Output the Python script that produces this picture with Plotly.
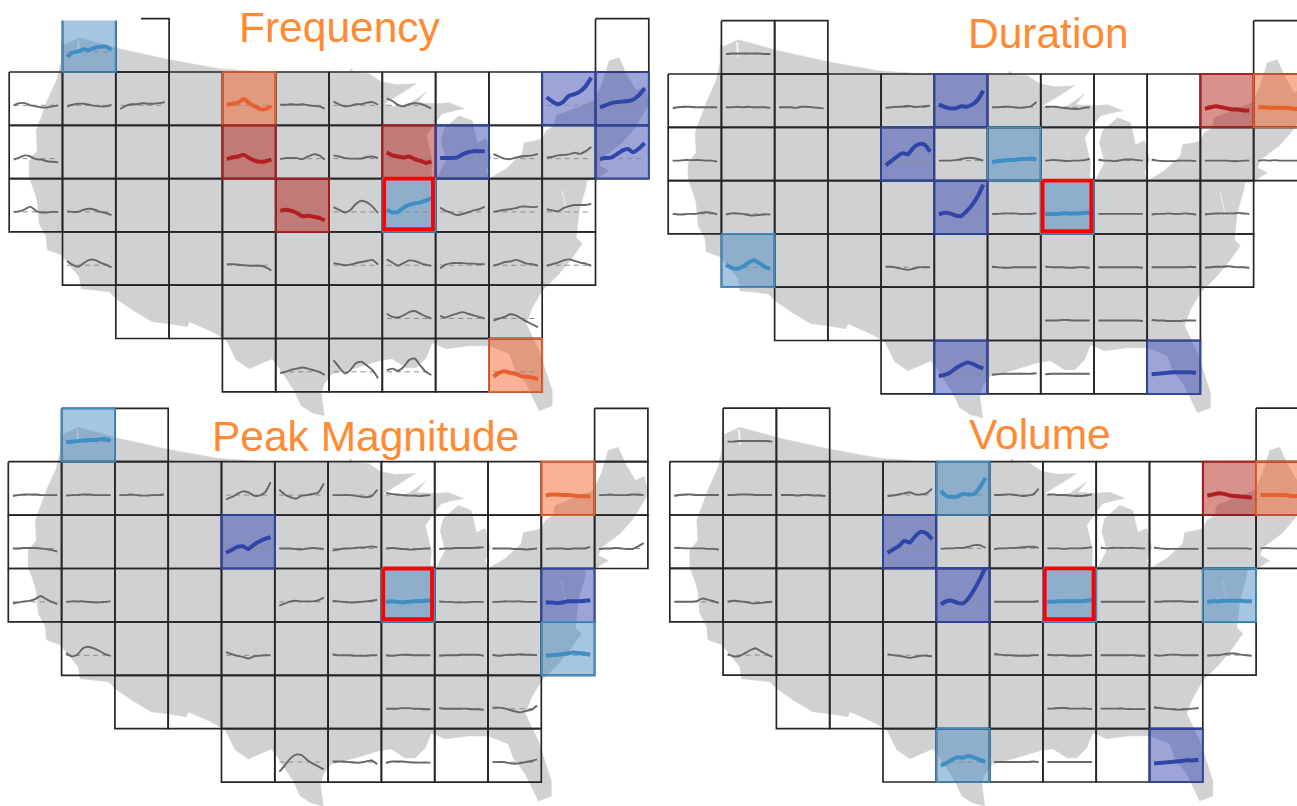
import plotly.graph_objects as go

# ---------- geometry of the tile map (col, row ranges per row) ----------
ROW_COLS = {0: [1, 2, 11], 1: list(range(12)), 2: list(range(12)), 3: list(range(11)),
            4: list(range(1, 11)), 5: list(range(2, 10)), 6: list(range(4, 10))}

# US silhouette in map units (1 cell = 53.3 units)
MAP_X = [52,55,70,110,160,210,267,320,340,342,345,360,372,387,407,393,375,383,400,412,417,408,427,440,455,445,433,425,417,423,422,427,
         437,432,435,450,463,468,477,482,477,480,497,513,515,527,533,537,545,547,585,593,600,610,617,627,636,640,625,612,593,590,600,587,
         577,577,570,567,573,563,550,543,533,523,517,530,543,543,530,517,505,500,480,460,437,423,417,407,397,383,370,347,323,315,312,315,
         303,292,285,270,263,240,227,217,203,180,178,160,143,123,107,100,72,70,60,52,38,37,30,28,25,20,20,28,27,32,38,48,52]
MAP_Y = [24,26,19,30,41,50,54,54,54,50,54,55,63,66,65,74,85,88,85,77,73,84,85,84,90,92,95,105,117,142,157,161,
         142,122,110,97,102,124,120,139,152,160,150,135,124,122,120,112,107,97,82,65,42,39,55,72,68,85,110,125,139,147,152,160,
         162,167,192,219,225,239,255,262,272,289,305,332,372,387,392,365,349,335,327,327,330,324,339,349,349,340,342,349,355,365,375,397,
         394,387,372,349,340,350,341,321,313,303,308,305,303,291,280,273,270,258,246,236,231,218,205,182,172,159,142,132,112,99,82,60,42]
PUGET_X = [68, 70, 71, 69]
PUGET_Y = [21, 22, 36, 36]
BAY_X = [553, 556, 558]
BAY_Y = [172, 185, 196]

# ---------- data: sparkline values, hundredths of a cell above the dashed baseline ----------
FREQ_CELLS = [(1,0),
    (0,1),(1,1),(2,1),(4,1),(5,1),(6,1),(7,1),(10,1),(11,1),
    (0,2),(4,2),(5,2),(6,2),(7,2),(8,2),(9,2),(10,2),(11,2),
    (0,3),(1,3),(5,3),(6,3),(7,3),(8,3),(9,3),(10,3),
    (1,4),(4,4),(6,4),(7,4),(8,4),(9,4),(10,4),
    (7,5),(8,5),(9,5),
    (5,6),(6,6),(7,6),(9,6)]
FREQ_SERIES = [[-9,-1,1,5,4,8,10,10,4],
    [0,4,4,0,-2,-4,-4,-2,0],[-2,1,3,3,1,-1,-2,-2,1],[-7,-1,2,2,4,3,3,4,6],[1,3,5,12,4,-2,-7,-7,-1],[1,1,2,1,2,0,-1,-2,-6],[7,2,-2,-1,2,2,5,6,1],[13,8,1,-2,2,4,3,-1,-6],[15,7,2,7,18,21,26,36,52],[-4,0,4,6,7,8,11,19,32],
    [-2,2,6,4,-1,-2,-5,-6,-7],[-1,2,4,7,1,-4,-6,-5,-2],[-1,1,1,1,-1,4,8,6,-2],[6,4,1,0,0,0,3,4,1],[12,6,4,2,4,-1,-4,-8,-5],[1,1,1,2,8,12,14,14,14],[9,4,0,-1,2,4,5,6,9],[2,3,6,7,8,11,9,14,22],[-1,1,2,8,15,18,12,19,29],
    [0,1,5,10,2,-1,-1,0,0],[1,0,0,4,6,4,0,-2,-6],[2,4,2,-2,-8,-7,-9,-11,-16],[9,4,-1,3,15,21,18,10,-2],[4,-1,0,8,13,16,18,21,26],[8,2,-2,-6,-4,-1,3,5,10],[0,2,4,5,7,10,10,9,10],[5,3,1,7,11,13,13,13,15],
    [8,1,-3,4,10,10,5,1,-4],[2,2,1,0,-1,-1,-1,-4,-10],[4,2,0,1,4,6,8,10,1],[11,5,-1,4,9,8,4,1,-1],[-6,1,4,4,4,3,3,2,2],[-1,2,6,7,10,7,3,2,-1],[-1,2,5,9,11,8,5,3,-1],
    [9,3,2,6,12,14,9,4,0],[5,2,6,9,12,9,6,3,0],[-4,0,3,8,6,0,-6,-11,-16],
    [-3,0,4,6,8,6,3,0,-6],[22,9,-3,3,16,19,12,3,-12],[3,6,2,9,22,25,12,0,-6],[-9,-2,1,-2,-4,-8,-9,-11,-14]]
FREQ_HIGHLIGHT = {(1,0):"blue",(4,1):"orange",(10,1):"navy",(11,1):"navy",(4,2):"red",(7,2):"red",(8,2):"navy",(11,2):"navy",(5,3):"red",(7,3):"blue",(9,6):"orange"}

DUR_CELLS = [(1,0),
    (0,1),(1,1),(2,1),(4,1),(5,1),(6,1),(7,1),(10,1),(11,1),
    (0,2),(4,2),(5,2),(6,2),(7,2),(8,2),(9,2),(10,2),(11,2),
    (0,3),(1,3),(5,3),(6,3),(7,3),(8,3),(9,3),(10,3),
    (1,4),(4,4),(6,4),(7,4),(8,4),(9,4),(10,4),
    (7,5),(8,5),(9,5),
    (5,6),(6,6),(7,6),(9,6)]
DUR_SERIES = [[0,1,1,1,1,1,1,0,0],
    [-2,0,1,1,0,0,0,0,0],[0,0,1,0,1,0,0,0,-1],[0,0,0,-1,1,1,0,-1,-2],[-1,0,1,1,3,1,1,2,3],[5,1,-2,-2,2,1,5,14,31],[0,0,1,1,0,-1,0,2,10],[1,1,1,-1,-2,-3,-3,-1,0],[-3,0,2,0,-2,-4,-4,-6,-6],[0,0,-1,-1,-1,-1,-2,-3,-4],
    [0,0,1,1,1,1,0,0,-2],[-9,-1,7,14,12,24,31,30,17],[0,0,0,1,3,5,5,3,0],[-3,-1,0,1,1,3,3,4,2],[0,1,1,0,-1,0,0,1,3],[2,0,0,-1,1,2,2,1,0],[2,0,-1,-1,-1,0,0,0,-1],[0,0,0,0,0,-1,-1,0,0],[0,1,0,1,0,0,0,0,0],
    [0,-1,-1,0,0,2,3,2,-1],[-1,1,1,0,-2,-3,-2,-1,-1],[-1,2,1,-3,-4,5,17,33,55],[0,0,1,1,1,0,0,0,1],[0,0,0,1,1,1,1,2,2],[0,0,0,0,0,0,0,0,0],[-1,0,0,1,0,0,1,0,-1],[-1,0,1,1,1,1,2,1,0],
    [5,-1,-3,1,8,13,8,1,-3],[1,1,-1,-3,-5,-3,0,0,0],[1,0,-1,-1,0,0,0,0,0],[1,0,0,0,-1,-1,0,0,-1],[0,0,0,0,0,0,0,0,-1],[0,0,0,0,0,0,0,1,0],[-1,0,1,1,2,1,0,0,-1],
    [0,0,0,1,1,0,0,0,0],[0,0,0,0,0,0,0,0,-1],[1,0,0,-1,-1,-1,0,0,0],
    [-4,-2,2,10,16,21,19,14,10],[-2,-1,0,0,0,0,0,0,1],[-1,0,0,0,0,0,0,0,0],[-1,0,1,2,3,3,3,3,2]]
DUR_HIGHLIGHT = {(5,1):"navy",(10,1):"red",(11,1):"orange",(4,2):"navy",(6,2):"blue",(5,3):"navy",(7,3):"blue",(1,4):"blue",(5,6):"navy",(9,6):"navy"}

PEAK_CELLS = [(1,0),
    (0,1),(1,1),(2,1),(4,1),(5,1),(6,1),(7,1),(10,1),(11,1),
    (0,2),(4,2),(5,2),(6,2),(7,2),(8,2),(9,2),(10,2),(11,2),
    (0,3),(1,3),(5,3),(6,3),(7,3),(8,3),(9,3),(10,3),
    (1,4),(4,4),(6,4),(7,4),(8,4),(9,4),(10,4),
    (7,5),(8,5),(9,5),
    (5,6),(6,6),(7,6),(9,6)]
PEAK_SERIES = [[-1,0,1,2,3,3,4,5,2],
    [-2,0,1,1,1,0,0,0,0],[-1,0,0,1,1,0,0,0,0],[0,0,1,0,-1,-1,0,0,1],[-8,-4,2,7,5,-1,-1,5,24],[10,1,-4,-7,-1,0,2,5,22],[0,0,0,0,-1,-3,-4,-2,10],[4,2,1,0,-1,-1,-2,-1,0],[-1,1,1,0,0,-1,-2,-2,-2],[0,0,1,0,0,0,1,1,0],
    [0,0,1,1,1,0,-1,-3,-6],[-8,-3,3,4,-1,7,13,18,21],[0,0,0,-1,-2,0,1,0,-1],[-4,-2,0,0,1,2,2,4,2],[0,1,0,-1,-2,-2,-1,0,0],[-1,0,0,1,1,1,1,2,2],[0,0,0,0,-1,-1,-2,-1,0],[-1,0,0,0,-1,0,0,0,3],[-1,0,0,1,0,-1,-1,4,10],
    [-3,-1,1,2,5,11,5,0,-4],[0,1,1,1,0,-1,-1,0,1],[-7,-3,1,2,1,1,1,3,8],[2,1,0,-1,-1,0,1,2,4],[0,1,0,-1,0,1,1,2,3],[1,0,0,-1,-1,-1,0,0,0],[0,0,1,1,1,1,0,0,0],[-1,-1,-2,-1,1,1,1,2,3],
    [4,-2,1,13,16,13,8,2,-1],[6,2,-1,-3,-6,-2,-1,0,0],[2,0,0,0,-1,-1,-1,0,0],[0,-1,0,1,1,0,0,0,0],[-1,0,0,0,1,1,1,1,-1],[1,-1,0,1,1,2,1,1,0],[-1,0,1,2,4,5,4,3,1],
    [0,0,0,1,1,0,0,-1,-1],[1,0,0,0,0,0,-1,-1,-2],[2,2,1,-2,-5,-7,-4,-2,6],
    [-18,-6,7,14,13,4,-3,-8,-14],[1,1,1,0,-1,-1,1,3,-4],[-2,1,1,1,0,-1,-1,-1,-1],[0,0,0,-2,-3,-2,0,2,5]]
PEAK_HIGHLIGHT = {(1,0):"blue",(10,1):"orange",(4,2):"navy",(7,3):"blue",(10,3):"navy",(10,4):"blue"}

VOL_CELLS = [(1,0),
    (0,1),(1,1),(2,1),(4,1),(5,1),(6,1),(7,1),(10,1),(11,1),
    (0,2),(4,2),(5,2),(6,2),(7,2),(8,2),(9,2),(10,2),(11,2),
    (0,3),(1,3),(5,3),(6,3),(7,3),(8,3),(9,3),(10,3),
    (1,4),(4,4),(6,4),(7,4),(8,4),(9,4),(10,4),
    (7,5),(8,5),(9,5),
    (5,6),(6,6),(7,6),(9,6)]
VOL_SERIES = [[0,0,1,1,1,1,1,1,0],
    [-2,0,1,1,0,0,0,0,0],[0,0,1,1,1,0,0,0,0],[0,0,0,-1,0,0,-1,-1,-2],[-2,-1,1,3,5,1,1,3,12],[8,-2,-4,-3,2,1,2,14,32],[0,0,1,1,0,-2,-1,1,12],[1,1,0,0,-1,-2,-2,-1,1],[-1,1,3,2,-1,-2,-3,-4,-5],[0,0,0,0,0,-1,-2,-2,-3],
    [1,1,0,0,0,0,-1,-1,-2],[-8,-2,4,14,11,23,31,28,17],[-1,0,0,1,1,3,6,6,1],[-2,0,0,1,1,2,3,3,1],[0,0,0,-1,0,0,0,1,2],[2,0,1,1,1,1,1,0,0],[2,0,-1,-1,-1,-1,-1,-1,-1],[0,0,0,0,0,0,0,0,-1],[0,1,0,0,0,0,0,-1,-1],
    [0,0,0,0,1,6,4,1,-2],[0,2,1,0,-2,-3,-2,-1,0],[-5,1,2,-2,-3,7,23,42,64],[0,0,0,0,0,0,0,0,1],[0,0,1,1,1,1,1,2,3],[0,0,0,0,0,0,0,0,0],[0,0,1,1,1,1,0,0,0],[0,1,1,2,2,2,2,1,1],
    [2,-2,-2,3,9,13,7,2,-3],[2,0,-1,-3,-5,-3,-1,-1,-2],[3,1,0,0,-1,-1,-1,0,0],[1,0,0,0,-1,-1,-1,0,0],[0,0,0,0,0,0,0,-1,-1],[0,-1,0,1,1,0,0,0,0],[-1,0,0,2,3,3,1,0,-1],
    [0,0,1,1,0,0,0,0,-1],[0,0,0,0,0,-1,-1,-1,-1],[3,1,0,-1,-2,-2,-1,0,1],
    [-7,-2,4,9,8,11,8,4,0],[0,0,0,0,0,0,0,1,0],[0,0,0,0,0,0,0,0,0],[-3,-2,-1,0,1,2,3,3,4]]
VOL_HIGHLIGHT = {(5,1):"blue",(10,1):"red",(11,1):"orange",(4,2):"navy",(5,3):"navy",(7,3):"blue",(10,3):"blue",(5,6):"blue",(9,6):"navy"}

SELECTED_CELL = (7, 3)
TITLES = ["Frequency", "Duration", "Peak Magnitude", "Volume"]

# ---------- styling ----------
CELL = 53.3
FILL = {"blue": "rgba(75,140,195,0.5)", "navy": "rgba(65,80,180,0.52)",
        "red": "rgba(178,35,25,0.5)", "orange": "rgba(245,95,35,0.48)"}
STROKE = {"blue": "#3F8FC4", "navy": "#2F45A8", "red": "#B31E20", "orange": "#E8602C"}
MAP_COLOR = "#D0D1D3"
GRID_COLOR = "#262626"
TITLE_COLOR = "#FF8A33"

#           series, cells, highlight, origin px (x,y), view px (x0,x1,y0,y1), cell w, cell h
PANELS = [
    (FREQ_SERIES, FREQ_CELLS, FREQ_HIGHLIGHT, (9.2, 18.7), (0, 650, 0, 430), 53.3, 53.3),
    (DUR_SERIES, DUR_CELLS, DUR_HIGHLIGHT, (668.2, 20.7), (660, 1297, 0, 430), 53.22, 53.3),
    (PEAK_SERIES, PEAK_CELLS, PEAK_HIGHLIGHT, (8.3, 408.3), (0, 650, 400, 806), 53.3, 53.4),
    (VOL_SERIES, VOL_CELLS, VOL_HIGHLIGHT, (669.8, 408.2), (660, 1297, 400, 806), 53.3, 53.4),
]
TITLE_POS = [(340, 27), (1048, 33), (365, 437), (1040, 434)]
W, H = 1297, 806

fig = go.Figure()


def rect(col, row, inset=(0, 0, 0, 0)):
    l, r, t, b = inset
    x0, x1 = (col + l) * CELL, (col + 1 - r) * CELL
    y0, y1 = (row + t) * CELL, (row + 1 - b) * CELL
    return [x0, x1, x1, x0, x0], [y0, y0, y1, y1, y0]


for i, (series, cells, hl, origin, view, cw, ch) in enumerate(PANELS):
    n = "" if i == 0 else str(i + 1)
    xa, ya = "x" + n, "y" + n
    ox, oy = origin
    vx0, vx1, vy0, vy1 = view
    kx, ky = cw / CELL, ch / CELL
    fig.update_layout({
        "xaxis" + n: dict(domain=[vx0 / W, vx1 / W], range=[(vx0 - ox) / kx, (vx1 - ox) / kx],
                          visible=False, anchor=ya, fixedrange=True),
        "yaxis" + n: dict(domain=[1 - vy1 / H, 1 - vy0 / H], range=[(vy1 - oy) / ky, (vy0 - oy) / ky],
                          visible=False, anchor=xa, fixedrange=True),
    })
    base = dict(xaxis=xa, yaxis=ya, hoverinfo="skip", showlegend=False)
    # silhouette
    fig.add_trace(go.Scatter(x=MAP_X + MAP_X[:1], y=MAP_Y + MAP_Y[:1], mode="lines", fill="toself",
                             fillcolor=MAP_COLOR, line=dict(color=MAP_COLOR, width=0.5), **base))
    fig.add_trace(go.Scatter(x=PUGET_X + PUGET_X[:1], y=PUGET_Y + PUGET_Y[:1], mode="lines", fill="toself",
                             fillcolor="rgba(255,255,255,0.8)", line=dict(color="white", width=0), **base))
    fig.add_trace(go.Scatter(x=BAY_X, y=BAY_Y, mode="lines", line=dict(color="rgba(255,255,255,0.45)", width=1.5), **base))
    # highlighted cell fills
    for (c, r), key in hl.items():
        xs, ys = rect(c, r)
        fig.add_trace(go.Scatter(x=xs, y=ys, mode="lines", fill="toself", fillcolor=FILL[key],
                                 line=dict(width=0), **base))
    # grid
    gx, gy = [], []
    for r, cols in ROW_COLS.items():
        for c in cols:
            xs, ys = rect(c, r)
            gx += xs + [None]
            gy += ys + [None]
    fig.add_trace(go.Scatter(x=gx, y=gy, mode="lines", line=dict(color=GRID_COLOR, width=1.7), **base))
    # highlighted cell borders
    for (c, r), key in hl.items():
        xs, ys = rect(c, r)
        fig.add_trace(go.Scatter(x=xs, y=ys, mode="lines", line=dict(color=STROKE[key], width=1.7), **base))
    # sparklines
    for (c, r), vals in zip(cells, series):
        xs = [(c + 0.085 + 0.835 * k / (len(vals) - 1)) * CELL for k in range(len(vals))]
        y0 = (r + 0.625) * CELL
        ys = [y0 - v * CELL / 100 for v in vals]
        fig.add_trace(go.Scatter(x=[xs[0], xs[-1]], y=[y0, y0], mode="lines",
                                 line=dict(color="#8c8c8c", width=1, dash="5px,4px"), **base))
        key = hl.get((c, r))
        line = dict(color=STROKE[key], width=4) if key else dict(color="#666666", width=1.9)
        fig.add_trace(go.Scatter(x=xs, y=ys, mode="lines",
                                 line=dict(shape="spline", smoothing=0.7, **line), **base))
    # selected reference cell
    xs, ys = rect(*SELECTED_CELL, inset=(0.035, 0.05, 0.0, 0.05))
    fig.add_trace(go.Scatter(x=xs, y=ys, mode="lines", line=dict(color="#FF0000", width=3.8), **base))

annotations = [dict(text=t, x=p[0] / W, y=1 - p[1] / H, xref="paper", yref="paper", xanchor="center",
                    yanchor="middle", showarrow=False,
                    font=dict(family="Liberation Sans, Arial, sans-serif", size=42.5, color=TITLE_COLOR))
               for t, p in zip(TITLES, TITLE_POS)]

fig.update_layout(width=W, height=H, margin=dict(l=0, r=0, t=0, b=0, pad=0), autosize=False,
                  paper_bgcolor="white", plot_bgcolor="rgba(0,0,0,0)", annotations=annotations,
                  shapes=[dict(type="rect", xref="paper", yref="paper", x0=0, x1=141 / W,
                               y0=1 - 20.5 / H, y1=1, fillcolor="white", line=dict(width=0), layer="above")])

fig.write_html("out.html", config=dict(displayModeBar=False),
               post_script="document.body.style.margin='0';document.body.style.overflow='hidden';")
